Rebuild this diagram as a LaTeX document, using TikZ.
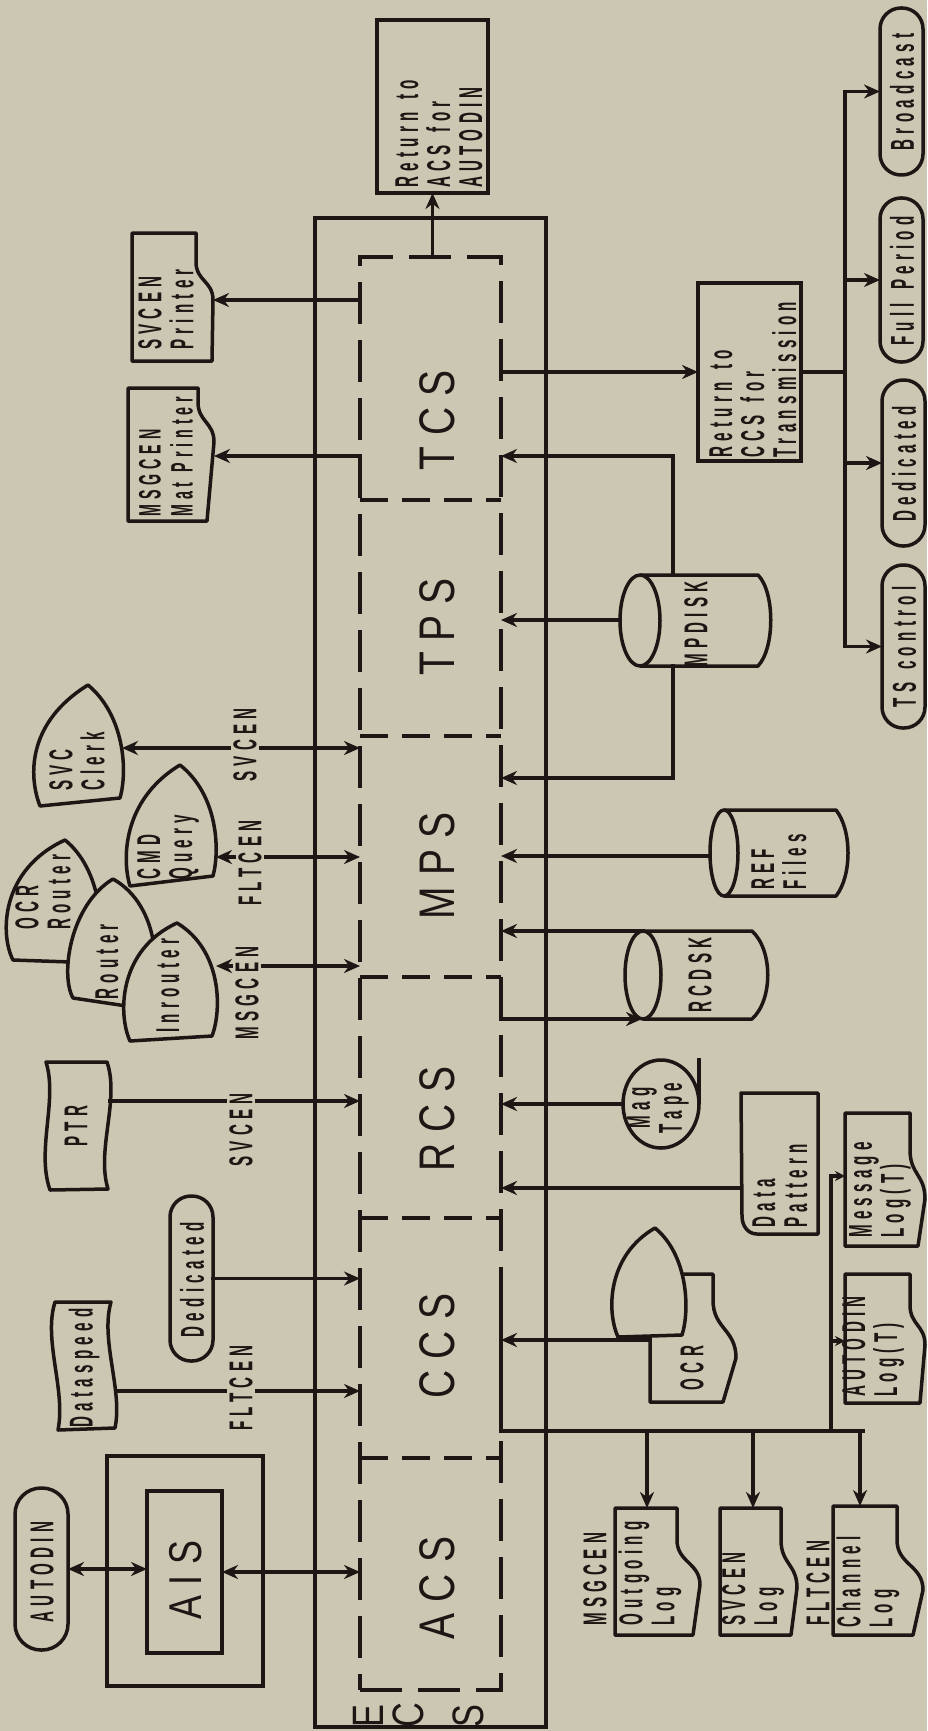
\documentclass[tikz,border=0pt]{standalone}
\usepackage{fontspec}
\usetikzlibrary{arrows.meta}
\newfontfamily\lblfont[FakeStretch=0.46,LetterSpace=16]{Liberation Sans}
\newfontfamily\secfont[FakeStretch=0.78,LetterSpace=22]{Liberation Sans}
\definecolor{bg}{RGB}{204,199,178}
\definecolor{ink}{RGB}{28,22,20}
\newcommand\wsp{\hspace{13pt}}
% document shape: L T Rn W1 R W2 Rb B
\newcommand\docpath[8]{\draw[ol] (#1,#2) -- (#3,#2) -- (#3,#4) .. controls (#3,{(#4+#6)/2}) and (#5,{(#4+#6)/2}) .. (#5,#6) -- (#7,#8) -- (#1,#8) -- cycle;}
\begin{document}
\begin{tikzpicture}[x=1pt,y=-1pt,
  ol/.style={draw=ink, line width=3.5pt, line join=round},
  olf/.style={ol, fill=bg},
  holder/.style={inner sep=0pt, outer sep=0pt, draw=none},
  rbox/.style={draw=ink, line width=3.5pt, inner sep=0pt, outer sep=0pt},
  term/.style={rbox, rounded corners=21pt},
  txt/.style={font=\lblfont\bfseries\fontsize{33}{32}\selectfont, text=ink, inner sep=0pt, align=left, rotate=90},
  lab/.style={txt, fill=bg, inner sep=2.5pt},
  sect/.style={font=\secfont\fontsize{50}{50}\selectfont, text=ink, inner sep=0pt, rotate=90},
  ln/.style={draw=ink, line width=3.5pt, line cap=rect},
  arr/.style={ln, -{Stealth[length=16pt,width=14pt]}},
  darr/.style={ln, {Stealth[length=16pt,width=14pt]}-{Stealth[length=16pt,width=14pt]}},
  sarr/.style={ln, -{Stealth[length=10pt,width=10pt]}},
  dashbox/.style={draw=ink, line width=4pt, dash pattern=on 42pt off 16pt},
  divline/.style={draw=ink, line width=4pt, dash pattern=on 28pt off 14pt}]
\fill[bg] (0,0) rectangle (927,1731);
\useasboundingbox (0,0) rectangle (927,1731);

% ---------- ECS frame and inner dashed box
\node[rbox, line width=4.5pt, minimum width=231pt, minimum height=1509pt] (ecs) at (430.5,972.5) {};
\node[holder, dashbox, minimum width=141pt, minimum height=1433pt] (dash) at (430.5,973.5) {};
\draw[divline] (360,500) -- (501,500);
\draw[divline] (360,736) -- (501,736);
\draw[divline] (360,977) -- (501,977);
\draw[divline] (360,1218) -- (501,1218);
\draw[divline] (360,1458) -- (501,1458);
\node[sect] (tcs) at (437,420) {TCS};
\node[sect] (tps) at (437,627) {TPS};
\node[sect] (mps) at (437,866) {MPS};
\node[sect] (rcs) at (437,1119) {RCS};
\node[sect] (ccs) at (437,1346) {CCS};
\node[sect] (acs) at (437,1588) {ACS};
\node[sect, anchor=west, font=\secfont\fontsize{44}{44}\selectfont] (ecs-e) at (368,1728) {E};
\node[sect, anchor=west, font=\secfont\fontsize{44}{44}\selectfont] (ecs-c) at (408,1728) {C};
\node[sect, anchor=west, font=\secfont\fontsize{44}{44}\selectfont] (ecs-s) at (468,1728) {S};

% ---------- Return to ACS
\node[rbox, minimum width=111pt, minimum height=173pt] (retacs) at (432.5,106.5) {};
\node[txt, anchor=west] (retacs-t) at (439,188) {Return\wsp to\\ACS\wsp for\\AUTODIN};
\draw[arr] (retacs.south |- dash.north) -- (retacs.south);

% ---------- printers
\node[holder, minimum width=81pt, minimum height=129pt] (svcprn) at (172.5,297.5) {};
\docpath{132}{233}{196}{262}{213}{300}{212}{361}
\node[txt, anchor=west] (svcprn-t) at (166,350) {SVCEN\\Printer};
\coordinate (svcprn-p) at (213,300);
\draw[arr] (dash.west |- svcprn-p) -- (svcprn-p);

\node[holder, minimum width=86pt, minimum height=133pt] (msgprn) at (171,454.5) {};
\docpath{128}{388}{198}{402}{214}{442}{207}{521}
\node[txt, anchor=west, font=\lblfont\bfseries\fontsize{31}{32}\selectfont] (msgprn-t) at (166,517) {MSGCEN\\Mat\hspace{10pt}Printer};
\coordinate (msgprn-p) at (214,456);
\draw[arr] (dash.west |- msgprn-p) -- (msgprn-p);

% ---------- SVC Clerk
\node[holder, minimum width=90pt, minimum height=125pt] (svcclerk) at (80,747) {};
\draw[olf] (88,685) .. controls (28,722) and (28,775) .. (40,806) -- (120,798) .. controls (128,770) and (124,715) .. (88,685) -- cycle;
\node[txt, anchor=west] (svcclerk-t) at (77,791) {SVC\\Clerk};
\coordinate (svcclerk-p) at (122,748);
\draw[darr] (svcclerk-p) -- (svcclerk-p -| dash.west);
\node[lab] (svcen1) at (245,745) {SVCEN};

% ---------- CMD Query
\node[holder, minimum width=90pt, minimum height=122pt] (cmdq) at (172,826) {};
\draw[olf] (180,765) .. controls (122,800) and (122,860) .. (130,886) -- (213,876) .. controls (220,850) and (218,795) .. (180,765) -- cycle;
\node[txt, anchor=west] (cmdq-t) at (168,880) {CMD\\Query};
\coordinate (cmdq-p) at (216,857);
\draw[darr] (cmdq-p) -- (cmdq-p -| dash.west);
\node[lab] (fltcen1) at (250,863) {FLTCEN};

% ---------- OCR Router / Router / Inrouter
\node[holder, minimum width=95pt, minimum height=123pt] (ocrrouter) at (52,901) {};
\draw[olf] (65,840) .. controls (0,870) and (0,935) .. (13,960) -- (100,963) .. controls (104,930) and (102,870) .. (65,840) -- cycle;
\node[txt, anchor=west] (ocrrouter-t) at (43,930) {OCR\\Router};
\node[holder, minimum width=95pt, minimum height=129pt] (router) at (110,943) {};
\draw[olf] (113,879) .. controls (70,905) and (60,975) .. (73,998) -- (140,1008) .. controls (165,980) and (160,905) .. (113,879) -- cycle;
\node[txt] (router-t) at (107,962) {Router};
\node[holder, minimum width=94pt, minimum height=118pt] (inrouter) at (171,982) {};
\draw[olf] (177,923) .. controls (118,950) and (118,1015) .. (130,1041) -- (212,1036) .. controls (222,1010) and (222,950) .. (177,923) -- cycle;
\node[txt, anchor=west] (inrouter-t) at (168,1033) {Inrouter};
\coordinate (inr-p) at (216,966);
\draw[darr] (inr-p) -- (inr-p -| dash.west);
\node[lab] (msgcen1) at (247,993) {MSGCEN};

% ---------- PTR
\node[holder, minimum width=62pt, minimum height=128pt] (ptr) at (77,1126) {};
\draw[ol] (46,1062) .. controls (58,1100) and (36,1150) .. (50,1190) -- (108,1189) .. controls (96,1150) and (120,1100) .. (107,1062) -- cycle;
\node[txt] (ptr-t) at (76,1126) {PTR};
\coordinate (ptr-p) at (110,1101);
\draw[arr] (ptr-p) -- (ptr-p -| dash.west);
\node[lab] (svcen2) at (241,1130) {SVCEN};

% ---------- Dedicated (left)
\node[term, minimum width=43pt, minimum height=165pt] (dedl) at (191.5,1278.5) {};
\node[txt] (dedl-t) at (192,1280) {Dedicated};
\draw[arr] (dedl.east) -- (dedl.east -| dash.west);

% ---------- Dataspeed
\node[holder, minimum width=60pt, minimum height=128pt] (dspeed) at (84,1366) {};
\draw[ol] (55,1302) .. controls (43,1340) and (66,1390) .. (58,1430) -- (115,1428) .. controls (123,1390) and (100,1340) .. (111,1302) -- cycle;
\node[txt] (dspeed-t) at (84,1368) {Dataspeed};
\coordinate (dspeed-p) at (117,1391);
\draw[arr] (dspeed-p) -- (dspeed-p -| dash.west);
\node[lab] (fltcen2) at (241,1388) {FLTCEN};

% ---------- AUTODIN and AIS
\node[term, rounded corners=26pt, minimum width=53pt, minimum height=162pt] (autodin) at (41.5,1569) {};
\node[txt] (autodin-t) at (42,1572) {AUTODIN};
\node[rbox, minimum width=156pt, minimum height=230pt] (aisout) at (185,1571) {};
\node[rbox, minimum width=75pt, minimum height=162pt] (ais) at (184.5,1572) {};
\node[sect, font=\secfont\fontsize{46}{46}\selectfont] (ais-t) at (186,1580) {AIS};
\draw[darr] (autodin.east) -- (autodin.east -| ais.west);
\draw[darr] (ais.east) -- (ais.east -| dash.west);

% ---------- Return to CCS and lines
\node[rbox, minimum width=103pt, minimum height=178pt] (retccs) at (749.5,372) {};
\node[txt, anchor=west] (retccs-t) at (753,458) {Return\wsp to\\CCS\wsp for\\Transmission};
\draw[arr] (dash.east |- retccs.west) -- (retccs.west);
\coordinate (busr) at (845,372);
\node[term, minimum width=43pt, minimum height=167pt] (bcast) at (901.5,91.5) {};
\node[txt] (bcast-t) at (902,92) {Broadcast};
\node[term, minimum width=43pt, minimum height=164pt] (fullp) at (901.5,280) {};
\node[txt] (fullp-t) at (902,281) {Full\wsp Period};
\node[term, minimum width=43pt, minimum height=166pt] (dedr) at (903.5,463) {};
\node[txt] (dedr-t) at (904,464) {Dedicated};
\node[term, minimum width=43pt, minimum height=163pt] (tsc) at (903.5,646.5) {};
\node[txt] (tsc-t) at (904,647) {TS\wsp control};
\draw[ln] (retccs.east) -- (busr);
\draw[ln] (busr |- bcast.west) -- (busr |- tsc.west);
\draw[arr] (busr |- bcast.west) -- (bcast.west);
\draw[arr] (busr |- fullp.west) -- (fullp.west);
\draw[arr] (busr |- dedr.west) -- (dedr.west);
\draw[arr] (busr |- tsc.west) -- (tsc.west);

% ---------- MPDISK
\node[holder, minimum width=150pt, minimum height=91pt] (mpdisk) at (695,620.5) {};
\draw[ol] (640,575) -- (758,575) .. controls (775,592) and (775,648) .. (758,666) -- (640,666);
\draw[ol] (640,620.5) ellipse [x radius=20, y radius=45.5];
\node[txt] (mpdisk-t) at (696,624) {MPDISK};
\coordinate (mpd-l) at (620,620);
\draw[arr] (mpd-l) -- (mpd-l -| dash.east);
\coordinate (mpd-t) at (673,575);
\coordinate (tcs-in) at (501,456);
\draw[arr] (mpd-t) |- (tcs-in);
\coordinate (mpd-b) at (673,666);
\coordinate (mps-in) at (501,778);
\draw[arr] (mpd-b) |- (mps-in);

% ---------- REF Files
\node[holder, minimum width=136pt, minimum height=86pt] (ref) at (777,853) {};
\draw[ol] (724,810) -- (836,810) .. controls (852,830) and (852,876) .. (836,896) -- (724,896);
\draw[ol] (724,853) ellipse [x radius=14, y radius=43];
\node[txt, anchor=west] (ref-t) at (779,890) {REF\\Files};
\coordinate (ref-l) at (710,856);
\draw[arr] (ref-l) -- (ref-l -| dash.east);

% ---------- RCDSK
\node[holder, minimum width=143pt, minimum height=88pt] (rcdsk) at (697,975) {};
\draw[ol] (643,931) -- (752,931) .. controls (773,950) and (773,1000) .. (752,1019) -- (643,1019);
\draw[ol] (643,975) ellipse [x radius=18, y radius=44];
\node[txt] (rcdsk-t) at (700,975) {RCDSK};
\coordinate (rcd-t) at (643,931);
\draw[arr] (rcd-t) -- (rcd-t -| dash.east);
\coordinate (rcs-out) at (501,979);
\coordinate (rcd-b) at (642,1019);
\draw[arr] (rcs-out) |- (rcd-b);

% ---------- Mag Tape
\node[holder, minimum width=77pt, minimum height=88pt] (magtape) at (661,1104) {};
\draw[ol] (661,1104) ellipse [x radius=38, y radius=44];
\draw[ol] (699,1104) -- (699,1058);
\node[txt, align=center] (magtape-t) at (658,1108) {Mag\\Tape};
\draw[arr] (magtape.west) -- (magtape.west -| dash.east);

% ---------- Data Pattern
\node[holder, minimum width=77pt, minimum height=141pt] (datapat) at (779.5,1163.5) {};
\draw[ol] (741,1093) -- (818,1093) -- (818,1234) -- (757,1234) .. controls (748,1234) and (742,1226) .. (742,1216) -- cycle;
\node[txt, anchor=west] (datapat-t) at (780,1228) {Data\\Pattern};
\coordinate (dp-l) at (741,1188);
\draw[arr] (dp-l) -- (dp-l -| dash.east);

% ---------- Message Log / AUTODIN Log
\node[holder, minimum width=80pt, minimum height=133pt] (msglog) at (885,1179.5) {};
\docpath{845}{1113}{910}{1150}{925}{1199}{918}{1246}
\node[txt, anchor=west] (msglog-t) at (880,1238) {Message\\Log(T)};
\node[holder, minimum width=80pt, minimum height=129pt] (adlog) at (885,1338.5) {};
\docpath{845}{1274}{910}{1305}{925}{1345}{920}{1403}
\node[txt, anchor=west] (adlog-t) at (873,1397) {AUTODIN\\Log(T)};

% ---------- OCR
\node[holder, minimum width=130pt, minimum height=174pt] (ocr) at (676,1315) {};
\docpath{650}{1274}{713}{1300}{736}{1358}{723}{1402}
\draw[olf] (655,1228) .. controls (608,1255) and (606,1310) .. (618,1337) -- (682,1335) .. controls (690,1310) and (688,1255) .. (655,1228) -- cycle;
\node[txt] (ocr-t) at (692,1368) {OCR};
\coordinate (ocr-p) at (650,1340);
\draw[arr] (ocr-p) -- (ocr-p -| dash.east);

% ---------- output bus and logs
\coordinate (ccs-out) at (501,1290);
\coordinate (bus-e) at (863,1431);
\draw[ln] (ccs-out) |- (bus-e);
\node[holder, minimum width=85pt, minimum height=127pt] (outlog) at (657.5,1571.5) {};
\docpath{615}{1508}{677}{1540}{700}{1585}{693}{1635}
\node[txt, anchor=west] (outlog-t) at (650,1626) {Outgoing\\Log};
\node[txt, anchor=west] (msgcen2) at (595,1626) {MSGCEN};
\node[holder, minimum width=77pt, minimum height=127pt] (svclog) at (758.5,1571.5) {};
\docpath{720}{1508}{781}{1540}{797}{1588}{791}{1635}
\node[txt, anchor=west] (svclog-t) at (753,1626) {SVCEN\\Log};
\node[holder, minimum width=90pt, minimum height=129pt] (chlog) at (878,1570.5) {};
\docpath{833}{1506}{897}{1540}{923}{1590}{913}{1635}
\node[txt, anchor=west] (chlog-t) at (868,1628) {Channel\\Log};
\node[txt, anchor=west] (fltcen3) at (818,1626) {FLTCEN};
\coordinate (ol-t) at (647,1508);
\coordinate (sl-t) at (753,1508);
\coordinate (cl-t) at (860,1506);
\draw[arr] (ol-t |- bus-e) -- (ol-t);
\draw[arr] (sl-t |- bus-e) -- (sl-t);
\draw[arr] (cl-t |- bus-e) -- (cl-t);
\coordinate (bus-up) at (831,1431);
\coordinate (ml-p) at (845,1176);
\coordinate (al-p) at (845,1341);
\draw[ln] (bus-up) -- (bus-up |- ml-p);
\draw[sarr] (bus-up |- ml-p) -- (ml-p);
\draw[sarr] (bus-up |- al-p) -- (al-p);
\end{tikzpicture}
\end{document}
